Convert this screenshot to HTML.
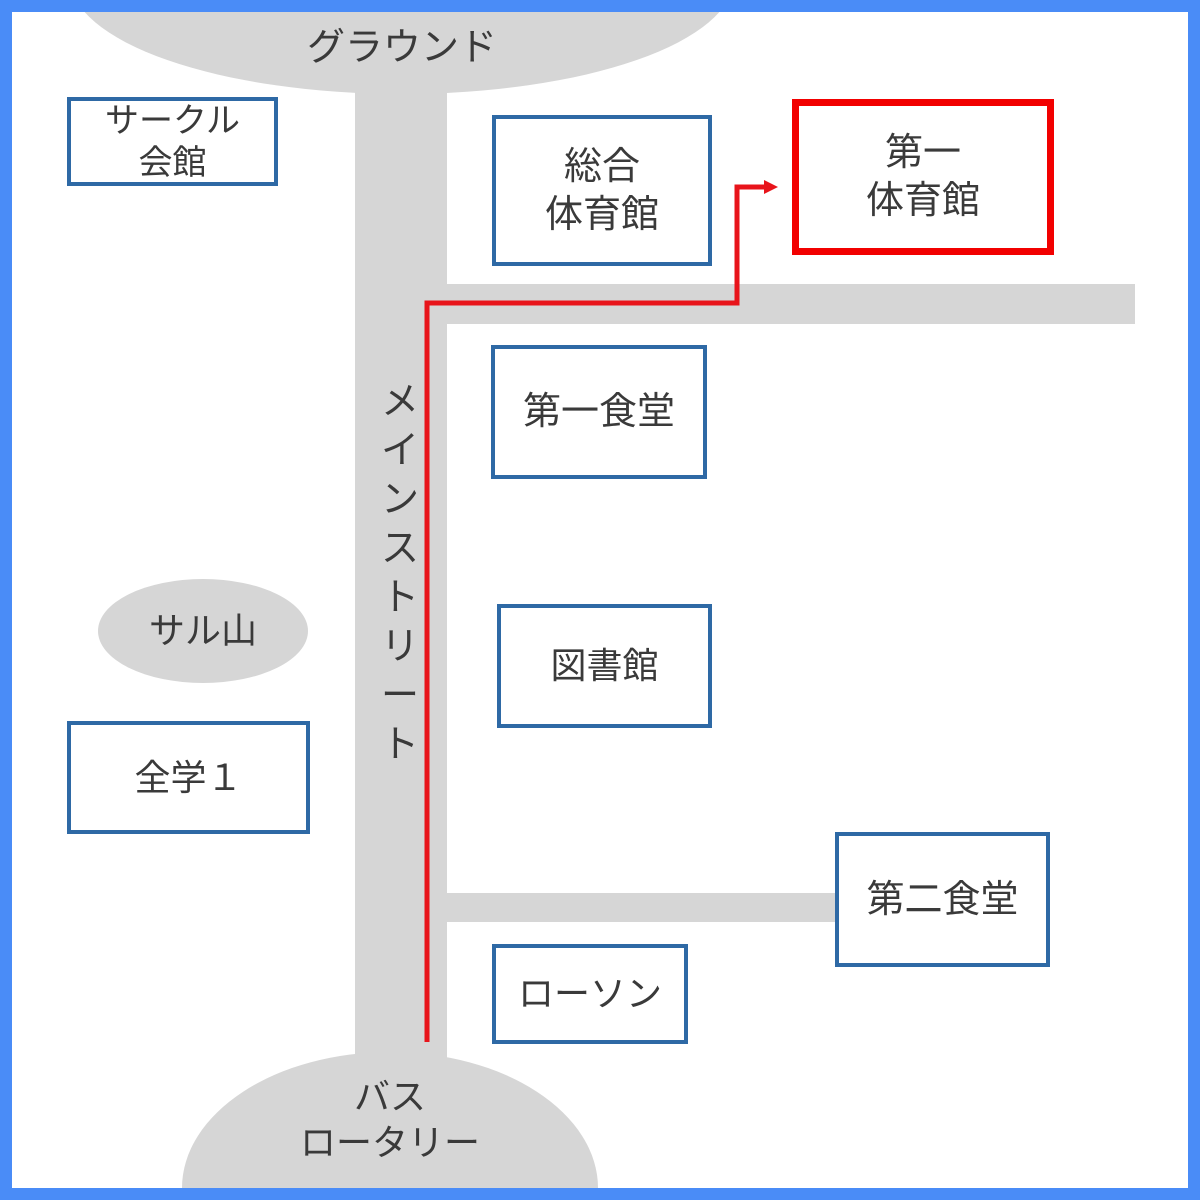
<!DOCTYPE html>
<html style="margin:0;width:1200px;height:1200px;overflow:hidden;"><head><meta charset="utf-8"><style>
body{margin:0;width:1200px;height:1200px;overflow:hidden;background:#4a8cf7;position:relative;}
#c{position:absolute;left:12px;top:12px;width:1176px;height:1176px;background:#fff;overflow:hidden;}
.a{position:absolute;}
.g{background:#d6d6d6;}
.b{position:absolute;border:4px solid #2e69a5;box-sizing:border-box;display:flex;align-items:center;justify-content:center;text-align:center;color:#3a3a3a;font-family:"Liberation Sans","Noto Sans CJK JP",sans-serif;font-size:38px;line-height:48px;}
.t{position:absolute;color:#3a3a3a;font-family:"Liberation Sans","Noto Sans CJK JP",sans-serif;font-size:38px;text-align:center;}
</style></head><body><div id="c">
<div class="a g" style="left:58px;top:-150px;width:664px;height:232px;border-radius:50%;"></div>
<div class="a g" style="left:343px;top:78px;width:92px;height:980px;"></div>
<div class="a g" style="left:433px;top:272px;width:690px;height:40px;"></div>
<div class="a g" style="left:433px;top:881px;width:392px;height:29px;"></div>
<div class="a g" style="left:170px;top:1040px;width:416px;height:136px;border-radius:208px 208px 0 0/136px 136px 0 0;"></div>
<div class="a g" style="left:86px;top:567px;width:210px;height:104px;border-radius:50%;"></div>
<div class="t" style="left:200px;top:12px;width:380px;line-height:48px;">グラウンド</div>
<div class="t" style="left:86px;top:595px;width:210px;line-height:48px;font-size:36px;">サル山</div>
<div class="t" style="left:228px;top:1062px;width:300px;line-height:46px;font-size:36px;">バス<br>ロータリー</div>
<div class="t" style="left:363px;top:366px;width:50px;line-height:49px;">メ<br>イ<br>ン<br>ス<br>ト<br>リ<br>ー<br>ト</div>
<svg class="a" style="left:0;top:0" width="1176" height="1176">
<polyline points="415,1030 415,291 725,291 725,175 755,175" fill="none" stroke="#e8141b" stroke-width="5"/>
<polygon points="752,168 766,175 752,182" fill="#e8141b"/>
</svg>
<div class="b" style="left:55px;top:85px;width:211px;height:89px;font-size:34px;line-height:42px;">サークル<br>会館</div>
<div class="b" style="left:480px;top:103px;width:220px;height:151px;">総合<br>体育館</div>
<div class="b" style="left:780px;top:87px;width:262px;height:156px;border:7px solid #f20000;">第一<br>体育館</div>
<div class="b" style="left:479px;top:333px;width:216px;height:134px;">第一食堂</div>
<div class="b" style="left:485px;top:592px;width:215px;height:124px;font-size:36px;">図書館</div>
<div class="b" style="left:55px;top:709px;width:243px;height:113px;font-size:36px;">全学１</div>
<div class="b" style="left:823px;top:820px;width:215px;height:135px;">第二食堂</div>
<div class="b" style="left:480px;top:932px;width:196px;height:100px;font-size:36px;">ローソン</div>
</div></body></html>
